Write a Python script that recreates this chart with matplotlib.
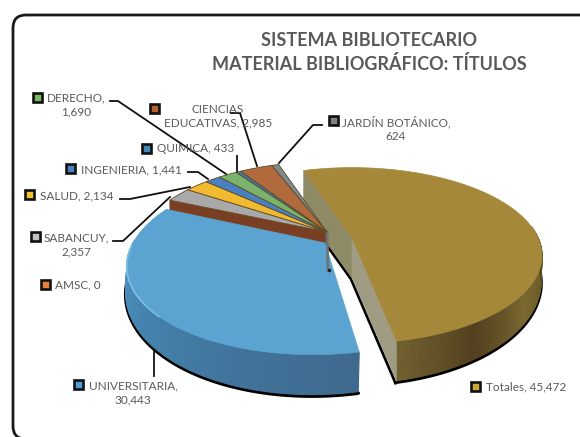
import numpy as np
import matplotlib
matplotlib.use('Agg')
import matplotlib.pyplot as plt
from matplotlib.colors import to_rgb
from matplotlib.patches import FancyBboxPatch, Polygon, Rectangle

plt.rcParams['font.family'] = ['Lato', 'DejaVu Sans']

title_lines = ['SISTEMA BIBLIOTECARIO', 'MATERIAL BIBLIOGRÁFICO: TÍTULOS']

# clockwise from the top left edge of Totales
names = ['Totales', 'UNIVERSITARIA', 'AMSC', 'SABANCUY', 'SALUD',
         'INGENIERIA', 'DERECHO', 'QUIMICA', 'CIENCIAS', 'JARDÍN BOTÁNICO']
values = [45472, 30443, 0, 2357, 2134, 1441, 1690, 433, 2985, 624]
colors = ['#a5883a', '#5ba3d0', '#e0813a', '#a9a9a9', '#f0b92e',
          '#4a80c2', '#7ab46a', '#3f78a8', '#b06a3c', '#7f8a8f']
key_colors = ['#c9a63a', '#4f9fd8', '#e8843a', '#c0c0c0', '#f2c230',
              '#4a80c8', '#78b860', '#3f88b8', '#b8602c', '#808080']

START = 108
DEPTH = 40
E = 0.2

# apex x, apex y, half width, half height, skew
GEOM_TOTAL = (352, 238, 190, 88, 0)
GEOM_UNIV = (325, 243, 196, 93, 10)
GEOM_REST = (327, 232, 190, 88, 0)

fig = plt.figure(figsize=(5.8, 4.37), dpi=100)
ax = fig.add_axes([0, 0, 1, 1])
ax.set_xlim(0, 580)
ax.set_ylim(437, 0)
ax.axis('off')


def project(deg, geom):
    # circle to ellipse with the pie centre moved up, as in a perspective view
    ax0, ay0, a, b, k = geom
    th = np.radians(deg)
    u, v = np.cos(th), np.sin(th)
    d = 1 + E * v
    up = u * np.sqrt(1 - E ** 2) / d
    vp = (v + E) / d
    return ax0 - k * E + a * up + k * vp, ay0 + E * b - b * vp


def wall_depth(deg, geom):
    # the wall looks shallower at the sides than at the front
    y = project(deg, geom)[1]
    vp = (geom[1] + E * geom[3] - y) / geom[3]
    return 26 - 14 * vp


def surface(a0, a1, geom):
    x, y = project(np.linspace(a0, a1, 80), geom)
    return np.column_stack([np.r_[geom[0], x], np.r_[geom[1], y]])


def face(deg, geom, color, z):
    x, y = project(deg, geom)
    pts = [(geom[0], geom[1]), (x, y), (x, y + DEPTH), (geom[0], geom[1] + DEPTH)]
    ax.add_patch(Polygon(pts, closed=True, fc=color, ec=color, lw=0.4, zorder=z))


def wall(a0, a1, geom, stops, shades, z):
    # outer wall as thin strips so the shade can change along the rim
    angles = np.linspace(a0, a1, 90)
    rgb = np.array([to_rgb(c) for c in shades])
    for p, q in zip(angles[:-1], angles[1:]):
        x0, y0 = project(p, geom)
        x1, y1 = project(q, geom)
        t = (p - a0) / (a1 - a0)
        c = [np.interp(t, stops, rgb[:, i]) for i in range(3)]
        pts = [(x0, y0), (x1, y1), (x1 - 1, y1 + wall_depth(q, geom)), (x0 - 1, y0 + wall_depth(p, geom))]
        ax.add_patch(Polygon(pts, closed=True, fc=c, ec=c, lw=0.8, zorder=z))


def shadow(a0, a1, geom, z):
    angles = np.linspace(a0, a1, 120)
    x, y = project(angles, geom)
    ax.plot(x - 1, y + wall_depth(angles, geom) + 1.5, color='black', lw=2.6, zorder=z,
            solid_capstyle='round')


# frame runs off the right and bottom of the picture
ax.add_patch(FancyBboxPatch((13, 15), 600, 424, boxstyle='round,pad=0,rounding_size=13',
                            fc='white', ec='#1a1a1a', lw=2.0, zorder=0, clip_on=True))

sweeps = np.array(values) / sum(values) * 360
ends = START - np.cumsum(sweeps)
starts = np.r_[START, ends[:-1]]

# Totales
a0, a1 = starts[0], ends[0]
shadow(a1, 10, GEOM_TOTAL, 1)
x0, y0 = project(a0, GEOM_TOTAL)
x1, y1 = project(a1, GEOM_TOTAL)
ax.plot([x0 - 1, 351, x1 - 1], [y0 + DEPTH + 1, 279, y1 + DEPTH + 2], color='black', lw=2, zorder=1)
wall(a1, 8, GEOM_TOTAL, [0, 0.25, 0.5, 0.75, 0.9, 1],
     ['#71602f', '#52401f', '#7a6830', '#6b5a28', '#3f3716', '#6e5f2a'], 2)
face(a0, GEOM_TOTAL, '#8f8a66', 3)
face(a1, GEOM_TOTAL, '#a09c84', 3)
ax.add_patch(Polygon(surface(a0, a1, GEOM_TOTAL), closed=True, fc=colors[0], ec=colors[0], lw=0.5, zorder=4))

# the small slices sit behind Universitaria, AMSC shows only as its side face
a2 = starts[2]
face(a2, GEOM_REST, '#7a3f22', 5)

# Universitaria
a0, a1 = starts[1], ends[1]
shadow(a0, -182, GEOM_UNIV, 5)
wall(a0, -182, GEOM_UNIV, [0, 0.3, 0.6, 1],
     ['#3f6a8e', '#41749c', '#4583ad', '#4f94c4'], 6)
ax.add_patch(Polygon(surface(a0, a1, GEOM_UNIV), closed=True, fc=colors[1], ec=colors[1], lw=0.5, zorder=7))
x, y = project(np.linspace(-135, -178, 50), GEOM_UNIV)
ax.plot(x, y, color='#7cc0e8', lw=1.2, zorder=8)

for i in range(3, len(values)):
    ax.add_patch(Polygon(surface(starts[i], ends[i], GEOM_REST), closed=True, fc=colors[i],
                         ec='#5e4a24', lw=0.6, zorder=9))
ax.plot([327, 328], [GEOM_REST[1], 270], color='#6d7377', lw=2.0, zorder=8)
ax.plot([328.5], [270], 'o', color='#222222', ms=1.6, zorder=8)

# leader lines
leaders = [
    ([110, 118, 226], [101, 101, 174]),
    ([231, 240, 257], [113, 113, 166]),
    ([322, 313, 279], [125, 125, 163]),
    ([237, 237], [156, 171]),
    ([188, 198, 208], [172, 172, 179]),
    ([120, 130, 190], [199, 199, 187]),
    ([113, 123, 170], [241, 241, 197]),
    ([154, 154], [352, 376]),
]
for lx, ly in leaders:
    ax.plot(lx, ly, color='#111111', lw=1.3, zorder=10)

# legend key position, then text anchor, alignment
key_pos = [(475, 386), (78, 384), (45, 284), (35, 236), (29, 194),
           (70, 168), (37, 97), (146, 148), (154, 108), (333, 120)]
text_pos = [(486, 387, 'left'), (133, 393, 'center'), (55, 285, 'left'), (76, 245, 'center'),
            (40, 196, 'left'), (81, 170, 'left'), (76, 105, 'center'), (157, 149, 'left'),
            (218, 116, 'center'), (396, 129, 'center')]
wrapped = {'UNIVERSITARIA': '{},\n{}', 'SABANCUY': '{},\n{}', 'DERECHO': '{},\n{}',
           'JARDÍN BOTÁNICO': '{},\n{}'}

for i, name in enumerate(names):
    kx, ky = key_pos[i]
    ax.add_patch(Rectangle((kx - 4.5, ky - 4.5), 9, 9, fc=key_colors[i], ec='#111111',
                           lw=1.9, zorder=11))
    fmt = wrapped.get(name, '{}, {}')
    label = fmt.format(name, f'{values[i]:,}')
    if name == 'CIENCIAS':
        label = f'CIENCIAS\nEDUCATIVAS, {values[i]:,}'
    tx, ty, ha = text_pos[i]
    ax.text(tx, ty, label, ha=ha, va='center', multialignment='center', fontsize=8.5,
            color='#595959', linespacing=1.3, zorder=12)

ax.text(369, 40, title_lines[0], ha='center', va='center', fontsize=13,
        fontweight='bold', color='#595959', zorder=12)
ax.text(369, 64, title_lines[1], ha='center', va='center', fontsize=13,
        fontweight='bold', color='#595959', zorder=12)

fig.savefig('out.png', dpi=100)
